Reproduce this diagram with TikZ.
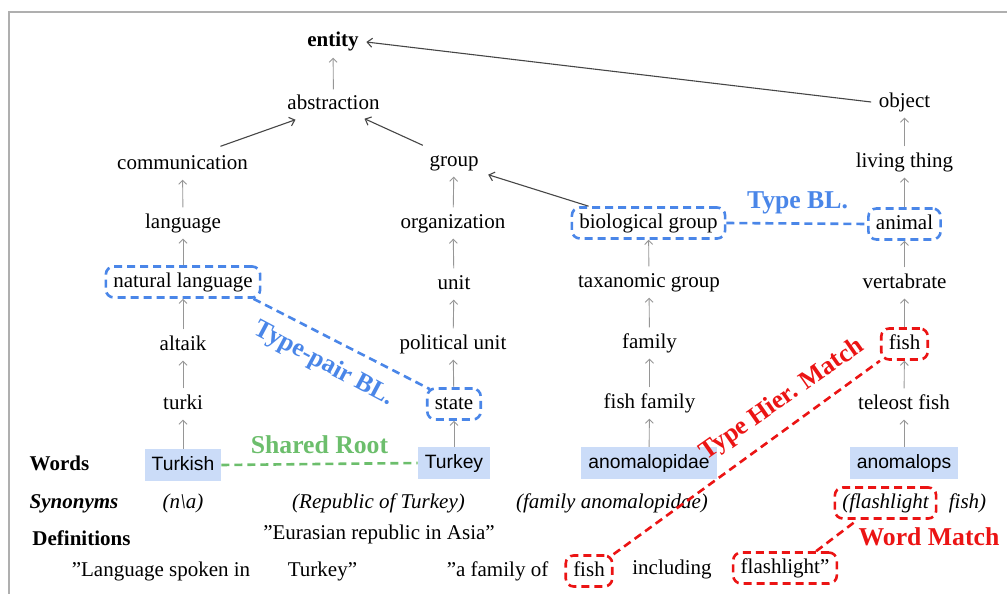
\documentclass[tikz,border=0pt]{standalone}
\usepackage{fontspec}
\setmainfont{Liberation Serif}
\setsansfont{Liberation Sans}
\usetikzlibrary{arrows.meta,calc}
\definecolor{hlblue}{RGB}{74,134,232}
\definecolor{hlgreen}{RGB}{108,190,108}
\definecolor{hlred}{RGB}{235,20,20}
\definecolor{wordfill}{RGB}{203,220,248}
\definecolor{framegray}{RGB}{175,175,175}
\definecolor{arrgray}{RGB}{150,150,150}
\definecolor{linegray}{RGB}{70,70,70}
\newcommand\nfs{\fontsize{21}{25}\selectfont}
\newcommand\lfs{\fontsize{25.7}{30}\selectfont\bfseries}
\tikzset{
  tx/.style={anchor=base, font=\nfs, inner xsep=7.5pt, inner ysep=5.5pt, text height=15pt, text depth=5pt},
  bftx/.style={tx, font=\nfs\bfseries},
  ittx/.style={tx, font=\nfs\itshape},
  bittx/.style={tx, font=\nfs\bfseries\itshape},
  wordbox/.style={tx, font=\fontsize{19.3}{23}\selectfont\sffamily, fill=wordfill, inner xsep=7pt, inner ysep=6pt},
  hlbox/.style={draw=#1, line width=2.6pt, dash pattern=on 8pt off 5pt, rounded corners=8pt},
  hlline/.style={draw=#1, line width=2.6pt, dash pattern=on 8pt off 5pt},
  uparr/.style={draw=arrgray, line width=0.9pt, -{Straight Barb[length=4pt,width=8pt]}},
  diarr/.style={draw=linegray, line width=1.1pt, -{Straight Barb[length=5pt,width=9pt]}},
  lab/.style={font=\lfs, text=#1},
}
\begin{document}
\begin{tikzpicture}[x=1pt,y=-1pt]
\useasboundingbox (0,0) rectangle (1007,594);
\draw[framegray, line width=1.6pt] (9,594) -- (9,12) -- (1007,12);

% column 1
\node[bftx] (entity) at (333,47) {entity};
\node[tx] (abstr) at (333.5,110) {abstraction};
\node[tx] (comm) at (182.5,169) {communication};
\node[tx] (lang) at (183,228) {language};
\node[tx, hlbox=hlblue] (natlang) at (183,287) {natural language};
\node[tx] (altaik) at (183,350) {altaik};
\node[tx] (turki) at (183,409) {turki};
\node[wordbox] (turkish) at (183,470) {Turkish};

% column 2
\node[tx] (group) at (454,166) {group};
\node[tx] (org) at (453,228) {organization};
\node[tx] (unit) at (454,289) {unit};
\node[tx] (polunit) at (453,349) {political unit};
\node[tx, hlbox=hlblue] (state) at (454,409) {state};
\node[wordbox] (turkey) at (454,468) {Turkey};

% column 3
\node[tx, hlbox=hlblue] (biog) at (648.5,228) {biological group};
\node[tx] (taxg) at (649,287) {taxanomic group};
\node[tx] (family) at (649.5,348) {family};
\node[tx] (fishfam) at (649.5,408) {fish family};
\node[wordbox] (anomalopidae) at (649,468) {anomalopidae};

% column 4
\node[tx] (object) at (904.5,107) {object};
\node[tx] (living) at (904.5,167) {living thing};
\node[tx, hlbox=hlblue] (animal) at (904.5,229) {animal};
\node[tx] (vert) at (904.5,288) {vertabrate};
\node[tx, hlbox=hlred] (fishr) at (904.5,349) {fish};
\node[tx] (teleost) at (904,409) {teleost fish};
\node[wordbox] (anomalops) at (904,468) {anomalops};

% row labels
\node[bftx] (wordslab) at (59.5,470) {Words};
\node[bittx] (synlab) at (74,508) {Synonyms};
\node[bftx] (deflab) at (81.5,545) {Definitions};

% synonyms
\node[ittx] (syn1) at (183,508) {(n\textbackslash a)};
\node[ittx] (syn2) at (378.5,508) {(Republic of Turkey)};
\node[ittx] (syn3) at (612,508) {(family anomalopidae)};
\node[ittx, hlbox=hlred] (flashs) at (885.5,508) {(flashlight};
\node[ittx] (syn4b) at (967.5,508) {fish)};

% definitions
\node[tx] (def2) at (379,539) {''Eurasian republic in Asia''};
\node[tx] (def1a) at (161,576) {''Language spoken in};
\node[tx] (def1b) at (322.5,576) {Turkey''};
\node[tx] (def3a) at (497.5,576) {''a family of};
\node[tx, hlbox=hlred] (fishd) at (589,576) {fish};
\node[tx] (def3c) at (672,574) {including};
\node[tx, hlbox=hlred] (flashd) at (785,573) {flashlight''};

% hierarchy arrows
\draw[uparr] (abstr) -- (entity);
\draw[uparr] (lang) -- (comm);
\draw[uparr] (natlang) -- (lang);
\draw[uparr] (altaik) -- (natlang);
\draw[uparr] (turki) -- (altaik);
\draw[uparr] (turkish) -- (turki);
\draw[uparr] (org) -- (group);
\draw[uparr] (unit) -- (org);
\draw[uparr] (polunit) -- (unit);
\draw[uparr] (state) -- (polunit);
\draw[uparr] (turkey) -- (state);
\draw[uparr] (taxg) -- (biog);
\draw[uparr] (family) -- (taxg);
\draw[uparr] (fishfam) -- (family);
\draw[uparr] (anomalopidae) -- (fishfam);
\draw[uparr] (living) -- (object);
\draw[uparr] (animal) -- (living);
\draw[uparr] (vert) -- (animal);
\draw[uparr] (fishr) -- (vert);
\draw[uparr] (teleost) -- (fishr);
\draw[uparr] (anomalops) -- (teleost);

\draw[diarr] ($(comm.north)+(38,-2)$) -- ($(abstr.south)+(-38,-1)$);
\draw[diarr] ($(group.north west)+(1,0)$) -- ($(abstr.south)+(31,-2)$);
\draw[diarr] (object.west) -- (entity.east);
\draw[diarr] ($(biog.north west)+(18,0)$) -- ($(group.south east)+(2,-2)$);

% highlight links
\draw[hlline=hlblue] (biog.east) -- (animal.west);
\node[lab=hlblue, anchor=base] (typebl) at (797.5,208) {Type BL.};

\draw[hlline=hlblue] ($(natlang.south east)+(-8,0)$) -- ($(state.north west)+(4,2)$);
\node[lab=hlblue, rotate=-28] (typepair) at (324,364) {Type-pair BL.};

\draw[hlline=hlgreen] (turkish.east) -- (turkey.west);
\node[lab=hlgreen, anchor=base] (shared) at (319.5,453) {Shared Root};

\draw[hlline=hlred] (fishd.north east) -- (fishr.south west);
\node[lab=hlred, rotate=35] (typehier) at (782,400) {Type Hier. Match};

\draw[hlline=hlred] ($(flashd.north east)+(-22,0)$) -- ($(flashs.south west)+(24,0)$);
\node[lab=hlred, anchor=base] (wordmatch) at (929,545) {Word Match};
\end{tikzpicture}
\end{document}
